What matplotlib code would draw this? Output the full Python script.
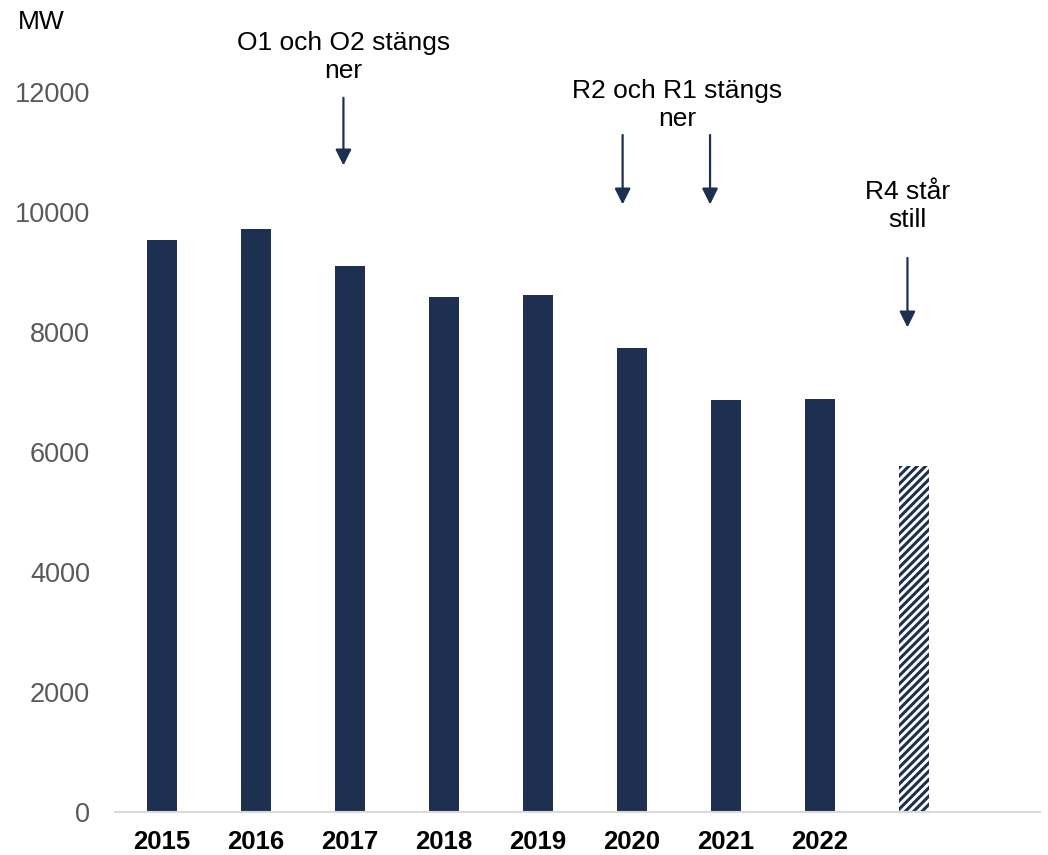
import matplotlib.pyplot as plt

plt.rcParams['font.family'] = ['Liberation Sans', 'DejaVu Sans']
plt.rcParams['hatch.linewidth'] = 2.2

# data
years = ["2015", "2016", "2017", "2018", "2019", "2020", "2021", "2022", ""]
capacity = [9530, 9715, 9100, 8580, 8615, 7735, 6865, 6885]
forecast = 5765
bar_col = "#1d3050"

fig = plt.figure(figsize=(10.48, 8.55), dpi=100)
ax = fig.add_axes([115 / 1048, 1 - 812 / 855, 925 / 1048, 720 / 855])

x = list(range(len(capacity)))
ax.bar(x, capacity, width=0.32, color=bar_col, linewidth=0)
# hatched bar for the R4 case
ax.bar(len(capacity), forecast, width=0.32, facecolor="white", edgecolor=bar_col,
       hatch="////", linewidth=0)

ax.set_xlim(-0.5, 9.34)
ax.set_ylim(0, 12000)
ax.set_yticks(range(0, 12001, 2000))
ax.set_xticks(range(len(years)))
ax.set_xticklabels(years, fontsize=18.5, fontweight="bold")
ax.tick_params(axis="y", length=0, labelsize=19.5, labelcolor="#595959", pad=18)
ax.tick_params(axis="x", length=0, pad=13)

for s in ["top", "right", "left"]:
    ax.spines[s].set_visible(False)
ax.spines["bottom"].set_color("#d9d9d9")
ax.spines["bottom"].set_linewidth(1.5)

fig.text(18 / 1048, 1 - 22 / 855, "MW", fontsize=19, va="center", ha="left")

# annotations: (text, text x, text y, arrow x list, arrow top, arrow bottom)
notes = [
    ("O1 och O2 stängs\nner", 1.93, 12580, [1.93], 11950, 10730),
    ("R2 och R1 stängs\nner", 5.48, 11780, [4.9, 5.83], 11330, 10080),
    ("R4 står\nstill", 7.93, 10100, [7.93], 9280, 8030),
]
for txt, tx, ty, axs, top, bot in notes:
    ax.text(tx, ty, txt, ha="center", va="center", fontsize=19,
            linespacing=1.2, clip_on=False)
    for a in axs:
        ax.annotate("", xy=(a, bot), xytext=(a, top),
                    arrowprops=dict(arrowstyle="-|>", color=bar_col, lw=1.6,
                                    mutation_scale=24), annotation_clip=False)

plt.savefig("out.png", dpi=100)
